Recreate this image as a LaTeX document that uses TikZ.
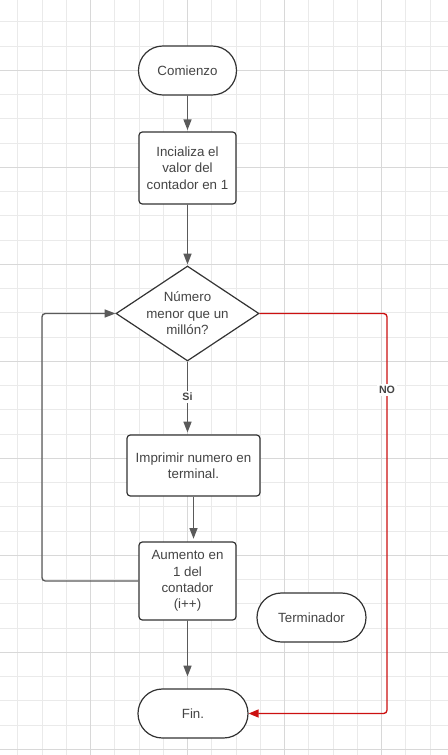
\documentclass[tikz,border=0pt]{standalone}
\usepackage{fontspec}
\setmainfont{Liberation Sans}
\usetikzlibrary{arrows.meta,shapes.geometric,calc}
\definecolor{gridminor}{HTML}{EAEAEA}
\definecolor{gridmajor}{HTML}{D8D8D8}
\definecolor{shapeline}{HTML}{333333}
\definecolor{txt}{HTML}{444444}
\definecolor{conn}{HTML}{5A5A5A}
\definecolor{redline}{HTML}{CC1010}
\tikzset{
  box/.style={draw=shapeline, line width=0.9pt, rounded corners=2.5pt, fill=white,
    text=txt, align=center, inner sep=0pt, font=\fontsize{10}{12.3}\selectfont},
  term/.style={box, rounded corners=18.3pt, minimum height=36.75pt},
  decis/.style={draw=shapeline, line width=0.9pt, diamond, fill=white, inner sep=0pt},
  flow/.style={draw=conn, line width=1pt, -{Triangle[length=8pt,width=6pt]}},
  redflow/.style={draw=redline, line width=1pt, rounded corners=2.5pt, -{Triangle[length=7.5pt,width=6pt]}},
  lbl/.style={fill=white, text=txt, font=\bfseries\fontsize{8}{9}\selectfont, inner sep=1.5pt},
}
\begin{document}
\begin{tikzpicture}[x=0.75pt,y=-0.75pt]
\useasboundingbox (0,0) rectangle (448,755);
\fill[white] (0,0) rectangle (448,755);
% grid
\foreach \i in {-3,...,14} \draw[gridminor, line width=0.75pt] ({90.7+24.25*\i},0) -- ({90.7+24.25*\i},755);
\foreach \j in {-2,...,28} \draw[gridminor, line width=0.75pt] (0,{70.3+24.25*\j}) -- (448,{70.3+24.25*\j});
\foreach \i in {0,4,8,12} \draw[gridmajor, line width=0.75pt] ({90.7+24.25*\i},0) -- ({90.7+24.25*\i},755);
\foreach \j in {0,4,...,28} \draw[gridmajor, line width=0.75pt] (0,{70.3+24.25*\j}) -- (448,{70.3+24.25*\j});

% nodes
\node[term, minimum width=73.5pt] (com) at (187.5,70.5) {Comienzo};
\node[box, minimum width=72.75pt, minimum height=54pt] (ini) at (187.5,168) {Incializa el\\valor del\\contador en 1};
\node[decis, minimum width=107.25pt, minimum height=71.25pt,
  label={[text=txt, align=center, font=\fontsize{10}{12.3}\selectfont]center:Número\\menor que un\\millón?}] (dia) at (187.5,313.5) {};
\node[box, minimum width=99.75pt, minimum height=45.75pt] (imp) at (193.5,465.5) {Imprimir numero en\\terminal.};
\node[box, minimum width=72.75pt, minimum height=58.5pt] (aum) at (187.5,581) {Aumento en\\1 del\\contador\\(i++)};
\node[term, minimum width=81.75pt] (ter) at (311.5,617.5) {Terminador};
\node[term, minimum width=82.5pt] (fin) at (193,713.5) {Fin.};

\coordinate (lp) at (42,313.5);
\coordinate (rc) at (387,713.5);

% connectors
\draw[flow, shorten >=1pt] (com.south) -- (com.south |- ini.north);
\draw[flow, shorten >=0.75pt] (ini.south) -- (ini.south |- dia.north);
\draw[flow, shorten >=1.5pt] (dia.south) -- (dia.south |- imp.north);
\draw[flow, shorten >=2pt] (imp.south) -- (imp.south |- aum.north);
\draw[flow, shorten >=9pt] (aum.south) -- (aum.south |- fin.north);
\draw[flow, rounded corners=2.5pt] (aum.west) -| (lp) -- (dia.west);
\draw[redflow] (dia.east) -| (rc) -- (fin.east);

% labels
\node[lbl] (si) at (187.5,397) {Si};
\node[lbl] (no) at (387,390) {NO};
\end{tikzpicture}
\end{document}
